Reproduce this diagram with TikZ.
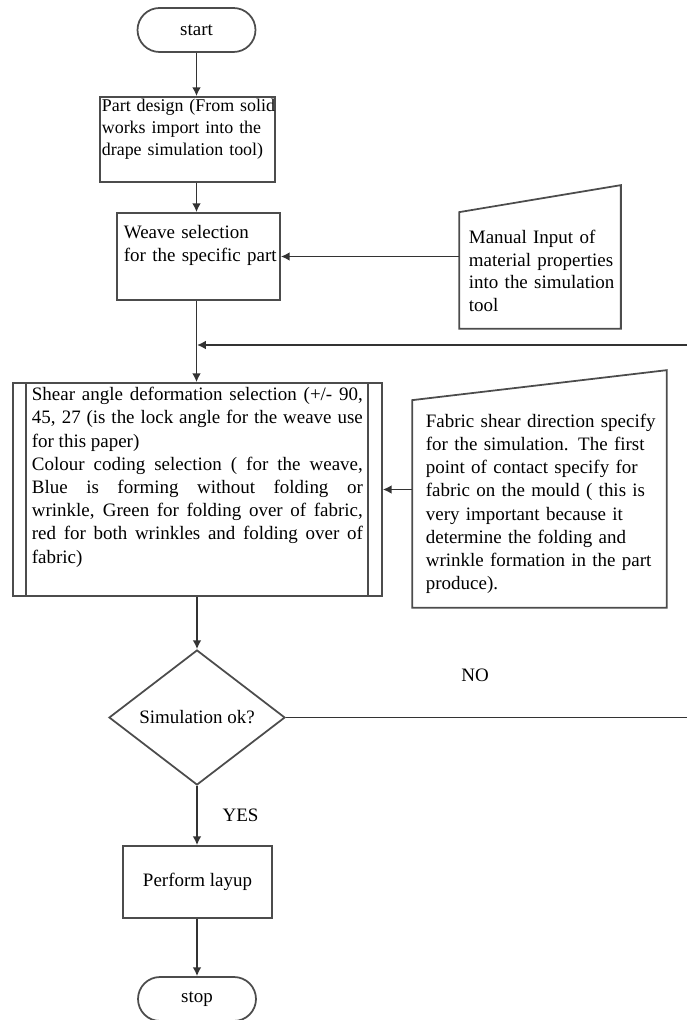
\documentclass[tikz,border=0pt]{standalone}
\usepackage{fontspec}
\setmainfont{Liberation Serif}
\usetikzlibrary{arrows.meta,shapes.geometric,shapes.misc}

\begin{document}
\begin{tikzpicture}[x=0.02cm,y=-0.02cm,line width=1pt,font=\fontsize{10.8}{13.2}\selectfont,
lines/.style={draw=black!70},
flow/.style={draw=black!80,-{Latex[length=5pt,width=5pt]}},
box/.style={lines,rectangle,inner sep=0pt},
term/.style={lines,rounded rectangle,minimum width=2.36cm,minimum height=0.88cm,inner sep=0pt},
txt/.style={inner sep=0pt,anchor=north west,align=left}]

\useasboundingbox (0,0) rectangle (686,1020);

\coordinate(loop)at(197,345);
\coordinate(edge)at(720,345);%% off the page

\node[term](start)at(196.5,30){start};
\node[box,minimum width=3.5cm,minimum height=1.7cm](part)at(187.5,139.5){};
\node[box,minimum width=3.26cm,minimum height=1.74cm](weave)at(198.5,256.5){};
\node[box,draw=none,minimum width=3.2cm,minimum height=2.3cm](manual)at(540,270.5){};
\node[box,minimum width=7.38cm,minimum height=4.26cm](shear)at(197.5,489.5){};
\node[box,draw=none,minimum width=5.06cm,minimum height=4.12cm](fabric)at(539.5,504){};
\node[lines,diamond,aspect=1.3,minimum width=3.52cm,minimum height=2.7cm,inner sep=0pt](sim)at(197,717.5){Simulation ok?};
\node[box,minimum width=2.98cm,minimum height=1.44cm](layup)at(197.5,882){Perform layup};
\node[term](stop)at(197,999){stop};

\draw[lines](manual.north west)--([yshift=0.54cm]manual.north east)--(manual.south east)--(manual.south west)--cycle;
\draw[lines](fabric.north west)--([yshift=0.6cm]fabric.north east)--(fabric.south east)--(fabric.south west)--cycle;
\draw[lines]([xshift=0.28cm]shear.north west)--([xshift=0.28cm]shear.south west);
\draw[lines]([xshift=-0.3cm]shear.north east)--([xshift=-0.3cm]shear.south east);

\node[txt,text width=3.7cm,font=\fontsize{10.2}{12.4}\selectfont](part-t)at(101,98.5){Part design (From solid\\works import into the\\drape simulation tool)};
\node[txt,text width=3.1cm](weave-t)at(123,224.5){Weave selection\\for the specific part};
\node[txt,text width=3.1cm,font=\fontsize{10.8}{12.8}\selectfont](manual-t)at(468,229.5){Manual Input of\\material properties\\into the simulation\\tool};
\node[txt,text width=6.62cm,align=justify](shear-t)at(31,386.5){Shear angle deformation selection (+/- 90,\linebreak 45, 27 (is the lock angle for the weave use\linebreak for this paper)\\Colour coding selection ( for the weave,\linebreak Blue is forming without folding or\linebreak wrinkle, Green for folding over of fabric,\linebreak red for both wrinkles and folding over of\linebreak fabric)};
\node[txt,text width=4.7cm](fabric-t)at(425,413){Fabric shear direction specify\\for the simulation. The first\\point of contact specify for\\fabric on the mould ( this is\\very important because it\\determine the folding and\\wrinkle formation in the part\\produce).};

\draw[flow](start.south)--(start.south|-part.north);
\draw[flow](start.south|-part.south)--(start.south|-weave.north);
\draw[flow](start.south|-weave.south)--(start.south|-shear.north);
\draw[flow](sim.north|-shear.south)--(sim.north);
\draw[flow](sim.south)--(sim.south|-layup.north);
\draw[flow](stop.north|-layup.south)--(stop.north);
\draw[flow](manual.west|-weave.east)--(weave.east);
\draw[flow](fabric.west|-shear.east)--(shear.east);
\draw[flow](sim.east)-|(edge)--(loop);

\node(yes)at(240.5,815){YES};
\node(no)at(475,675){NO};
\end{tikzpicture}
\end{document}
